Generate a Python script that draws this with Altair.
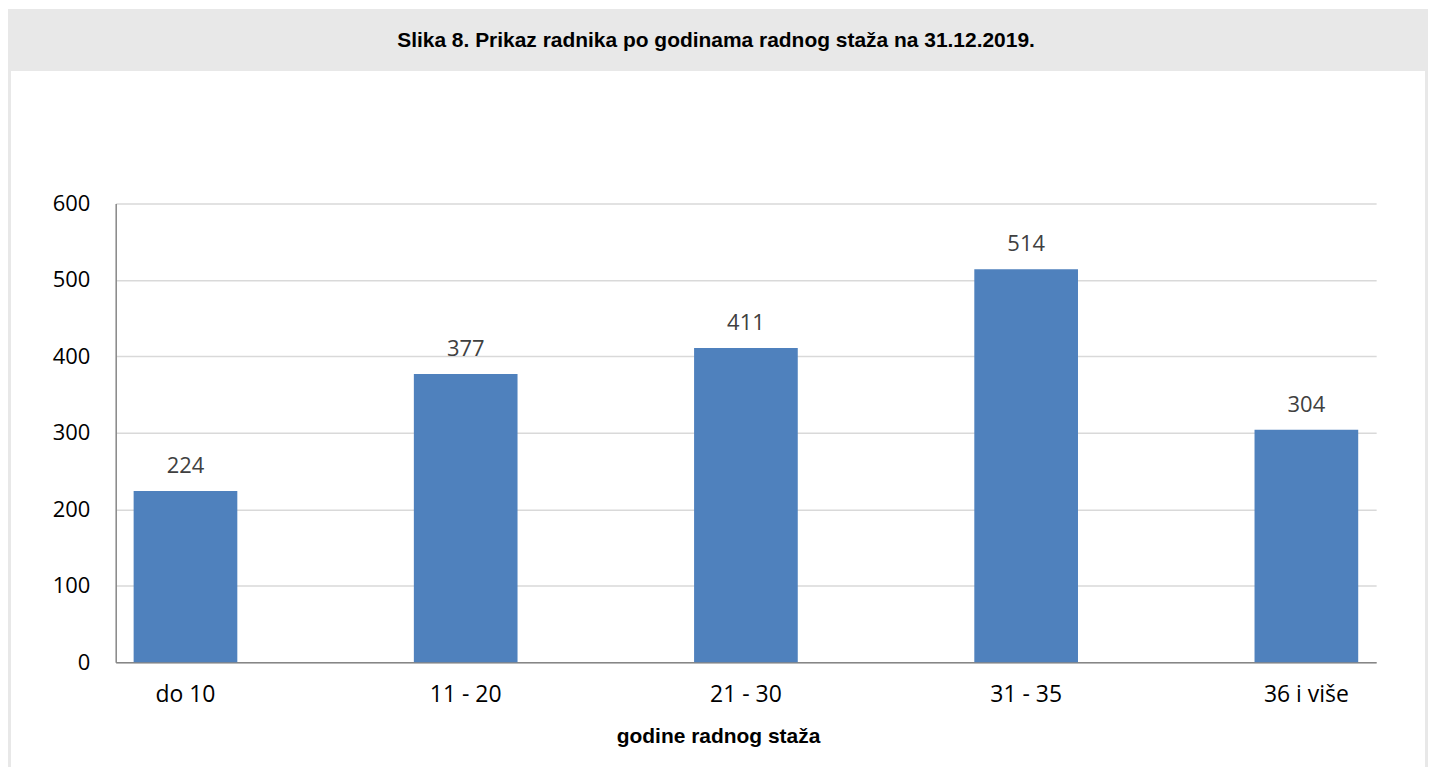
import altair as alt
import pandas as pd

title_text = "Slika 8. Prikaz radnika po godinama radnog staža na 31.12.2019."
x_title = "godine radnog staža"
categories = ["do 10", "11 - 20", "21 - 30", "31 - 35", "36 i više"]
values = [224, 377, 411, 514, 304]
y_ticks = [0, 100, 200, 300, 400, 500, 600]

df = pd.DataFrame({"cat": categories, "val": values})
one = pd.DataFrame({"k": [0]})

W, H = 1264, 460
GRAY = "#e8e8e8"

x_enc = alt.X(
    "cat:N",
    sort=categories,
    scale=alt.Scale(paddingInner=0.63, paddingOuter=0.064),
    axis=alt.Axis(
        title=x_title, labelAngle=0, ticks=False, labelPadding=21,
        labelFontSize=23, labelFont="Open Sans", labelColor="#000000",
        domainColor="#868686", domainWidth=1.5,
        titleFont="Liberation Sans", titleFontSize=21, titleFontWeight="bold",
        titleColor="#000000", titleX=604, titleY=74, titleBaseline="middle",
        titleAlign="center",
    ),
)
y_enc = alt.Y(
    "val:Q",
    scale=alt.Scale(domain=[0, 600], nice=False),
    axis=alt.Axis(
        title=None, values=y_ticks, ticks=False, labelPadding=26,
        labelFontSize=22, labelFont="Open Sans", labelColor="#000000",
        domainColor="#868686", domainWidth=1.5,
        gridColor="#d9d9d9", gridWidth=1.5,
    ),
)

bars = alt.Chart(df).mark_bar(color="#4F81BD").encode(x=x_enc, y=y_enc)
labels = alt.Chart(df).mark_text(
    font="Open Sans", fontSize=22, color="#404040", baseline="alphabetic", dy=-18
).encode(x=alt.X("cat:N", sort=categories), y="val:Q", text="val:Q")

BOTTOM = 105
header = alt.Chart(one).mark_rect(color=GRAY).encode(
    x=alt.value(-108), x2=alt.value(1316), y=alt.value(-195), y2=alt.value(-133)
)
left_border = alt.Chart(one).mark_rect(color=GRAY).encode(
    x=alt.value(-108), x2=alt.value(-105), y=alt.value(-133), y2=alt.value(H + BOTTOM)
)
right_border = alt.Chart(one).mark_rect(color=GRAY).encode(
    x=alt.value(1313), x2=alt.value(1316), y=alt.value(-133), y2=alt.value(H + BOTTOM)
)
title = alt.Chart(one).mark_text(
    font="Liberation Sans", fontSize=21, fontWeight="bold", color="#000000",
    align="center", baseline="middle",
).encode(x=alt.value(602), y=alt.value(-163), text=alt.value(title_text))

chart = alt.layer(header, left_border, right_border, title, bars, labels).properties(
    width=W, height=H,
    padding={"left": 108, "top": 195, "right": 52, "bottom": BOTTOM},
    autosize=alt.AutoSizeParams(type="none"),
    background="white",
).configure_view(stroke=None)

chart.save("out.html", embed_options={"renderer": "svg", "actions": False})
